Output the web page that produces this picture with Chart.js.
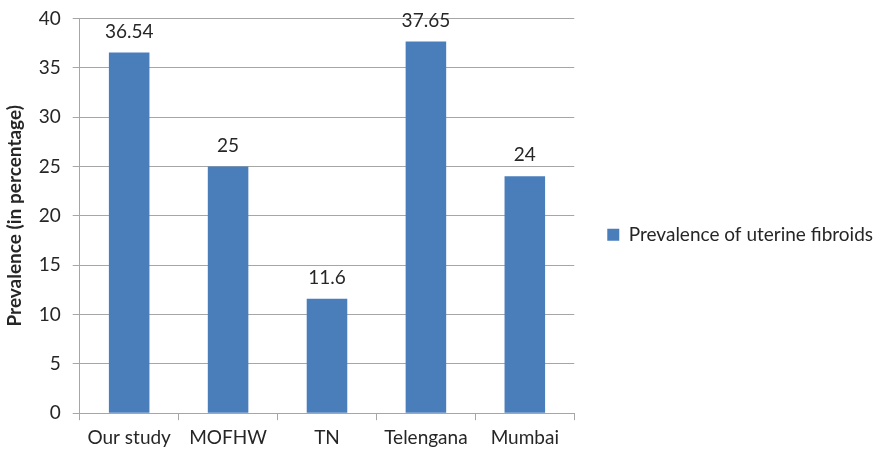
<!DOCTYPE html>
<html>
<head>
<meta charset="utf-8">
<script src="https://cdn.jsdelivr.net/npm/chart.js@4.4.0/dist/chart.umd.min.js"></script>
<style>
  html, body { margin: 0; padding: 0; background: #fff; }
  #wrap { width: 883px; height: 451px; }
</style>
</head>
<body>
<div id="wrap"><canvas id="chart" width="883" height="451"></canvas></div>
<script>
const categories = ['Our study', 'MOFHW', 'TN', 'Telengana', 'Mumbai'];
const prevalence = [36.54, 25, 11.6, 37.65, 24];
const yTicks = [0, 5, 10, 15, 20, 25, 30, 35, 40];

const FONT = 'Lato, "Open Sans", sans-serif';
const TEXT = '#262626';
const GRID = '#a6a6a6';

// value labels above each bar
const barLabels = {
    id: 'barLabels',
    afterDatasetsDraw(chart) {
        const ctx = chart.ctx;
        const meta = chart.getDatasetMeta(0);
        ctx.save();
        ctx.font = '19px ' + FONT;
        ctx.fillStyle = TEXT;
        ctx.textAlign = 'center';
        ctx.textBaseline = 'middle';
        meta.data.forEach(function (bar, i) {
            ctx.fillText(String(prevalence[i]), bar.x, bar.y - 21);
        });
        ctx.restore();
    }
};

new Chart(document.getElementById('chart'), {
    type: 'bar',
    data: {
        labels: categories,
        datasets: [{
            label: 'Prevalence of uterine fibroids',
            data: prevalence,
            backgroundColor: '#4a7ebb',
            categoryPercentage: 1,
            barPercentage: 0.41
        }]
    },
    options: {
        responsive: false,
        animation: false,
        layout: { padding: { top: 0, left: 0, right: 0, bottom: -4 } },
        plugins: {
            legend: {
                position: 'right',
                maxWidth: 320,
                // empty title only pushes the entry down a little
                title: { display: true, text: ' ', padding: 0, font: { size: 12 } },
                labels: {
                    font: { family: FONT, size: 19 },
                    color: TEXT,
                    boxWidth: 12,
                    boxHeight: 12,
                    padding: 5
                }
            },
            tooltip: { enabled: false }
        },
        scales: {
            x: {
                grid: { offset: true, drawOnChartArea: false, tickLength: 7, color: GRID },
                border: { color: GRID },
                ticks: { font: { family: FONT, size: 19 }, color: TEXT, padding: 6 }
            },
            y: {
                min: 0,
                max: 40,
                afterBuildTicks(scale) {
                    scale.ticks = yTicks.map(v => ({ value: v }));
                },
                grid: { color: GRID, tickLength: 7 },
                border: { color: GRID },
                ticks: {
                    font: { family: FONT, size: 19 },
                    color: TEXT,
                    padding: 7,
                    callback: v => v + ' '
                },
                title: {
                    display: true,
                    text: 'Prevalence (in percentage)',
                    font: { family: FONT, size: 19, weight: 'bold' },
                    color: TEXT,
                    padding: { top: 3, bottom: 6 }
                }
            },
            gap: {
                position: 'right',
                display: true,
                grid: { display: false },
                border: { display: false },
                ticks: { display: false },
                afterFit(scale) { scale.width = 28; }
            }
        }
    },
    plugins: [barLabels]
});
</script>
</body>
</html>
